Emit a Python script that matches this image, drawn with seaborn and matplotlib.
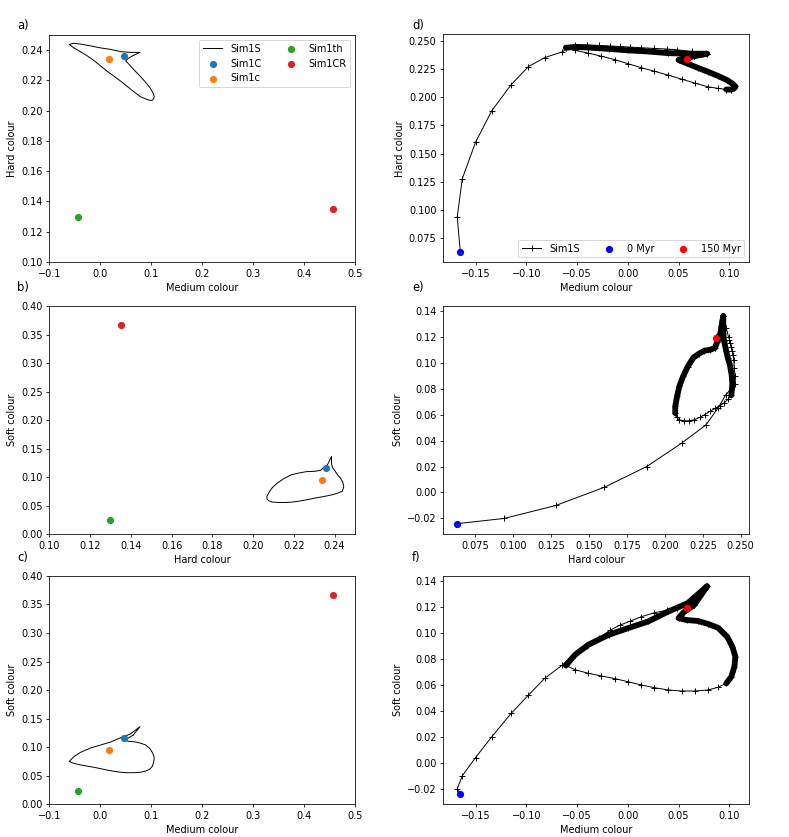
import pandas as pd
import matplotlib
matplotlib.use("Agg")
import matplotlib.pyplot as plt
import seaborn as sns

# Colour-colour diagrams: single simulations and the Sim1S time track

# Single simulations (medium, hard, soft colour)
sim_names = ['Sim1C', 'Sim1c', 'Sim1th', 'Sim1CR']
sim_medium = [0.046, 0.018, -0.044, 0.457]
sim_hard = [0.236, 0.234, 0.130, 0.135]
sim_soft = [0.116, 0.095, 0.024, 0.366]

# Sim1S track, split in pieces (medium, hard, soft)
transit_medium = [-0.165, -0.168, -0.163, -0.150, -0.134, -0.115, -0.098, -0.082, -0.065]
transit_hard = [0.063, 0.094, 0.128, 0.160, 0.188, 0.211, 0.227, 0.235, 0.240]
transit_soft = [-0.024, -0.020, -0.010, 0.004, 0.020, 0.038, 0.052, 0.065, 0.075]

first_medium = [-0.052, -0.040, -0.028, -0.018, -0.008, 0.002, 0.013, 0.026, 0.039, 0.048, 0.063, 0.078]
first_hard = [0.2465, 0.2462, 0.2458, 0.2454, 0.2449, 0.2444, 0.2438, 0.2432, 0.2426, 0.2420, 0.2405, 0.2385]
first_soft = [0.084, 0.090, 0.096, 0.102, 0.106, 0.109, 0.1125, 0.1156, 0.1177, 0.1195, 0.127, 0.136]

bulge_medium = [0.065, 0.055, 0.050, 0.058, 0.069, 0.079, 0.089, 0.098, 0.103, 0.106, 0.105, 0.102, 0.097]
bulge_hard = [0.2365, 0.2345, 0.2330, 0.2300, 0.2260, 0.2225, 0.2188, 0.2150, 0.2120, 0.2095, 0.2080, 0.2068, 0.2068]
bulge_soft = [0.1215, 0.116, 0.1115, 0.1100, 0.1093, 0.1070, 0.1040, 0.0970, 0.0895, 0.0817, 0.0740, 0.0663, 0.0612]

bottom_medium = [0.089, 0.079, 0.066, 0.053, 0.040, 0.026, 0.013, 0.000, -0.013, -0.026, -0.039, -0.052, -0.061]
bottom_hard = [0.2078, 0.2092, 0.2125, 0.2160, 0.2195, 0.2230, 0.2262, 0.2297, 0.2333, 0.2363, 0.2390, 0.2415, 0.2438]
bottom_soft = [0.0582, 0.0561, 0.0553, 0.0553, 0.0561, 0.0579, 0.0600, 0.0625, 0.0649, 0.0669, 0.0690, 0.0717, 0.0750]

top_medium = [-0.052, -0.039, -0.019, 0.000, 0.020, 0.040, 0.059, 0.078]
top_hard = [0.2445, 0.2440, 0.2428, 0.2415, 0.2405, 0.2390, 0.2385, 0.2385]
top_soft = [0.0832, 0.0909, 0.0986, 0.1037, 0.1089, 0.1166, 0.1230, 0.1360]

end_medium = [0.065, 0.058]
end_hard = [0.2365, 0.234]
end_soft = [0.1215, 0.119]


def piece(med, hard, soft):
    return pd.DataFrame({'med': med, 'hard': hard, 'soft': soft})


transit = piece(transit_medium, transit_hard, transit_soft)
first = piece(first_medium, first_hard, first_soft)
bulge = piece(bulge_medium, bulge_hard, bulge_soft)
bottom = piece(bottom_medium, bottom_hard, bottom_soft)
top = piece(top_medium, top_hard, top_soft)
end = piece(end_medium, end_hard, end_soft)

track = pd.concat([transit, first, bulge, bottom, top, end], ignore_index=True)
# closed limit cycle shown in panels a-c
cycle = pd.concat([bulge, bottom, top, bulge.iloc[:1]], ignore_index=True)
# slow (densely sampled) parts of the track
dense = [pd.concat([first.iloc[-1:], bulge], ignore_index=True),
         pd.concat([bottom.iloc[-1:], top, end], ignore_index=True)]

sims = pd.DataFrame({'name': sim_names, 'med': sim_medium, 'hard': sim_hard, 'soft': sim_soft})
sim_colors = ['tab:blue', 'tab:orange', 'tab:green', 'tab:red']

labels = {'med': 'Medium colour', 'hard': 'Hard colour', 'soft': 'Soft colour'}

fig = plt.figure(figsize=(789 / 70, 837 / 70), dpi=70)

left_pos = [[0.0625, 0.6870, 0.3874, 0.2712],
            [0.0625, 0.3620, 0.3874, 0.2724],
            [0.0625, 0.0391, 0.3874, 0.2728]]
right_pos = [[0.5619, 0.6866, 0.3878, 0.2724],
             [0.5619, 0.3620, 0.3878, 0.2728],
             [0.5619, 0.0391, 0.3878, 0.2728]]
pairs = [('med', 'hard'), ('hard', 'soft'), ('med', 'soft')]
limits = [((-0.1, 0.5), (0.10, 0.25)), ((0.10, 0.25), (0.0, 0.40)), ((-0.1, 0.5), (0.0, 0.40))]

# left column: limit cycle and single simulations
for i, (xc, yc) in enumerate(pairs):
    ax = fig.add_axes(left_pos[i])
    sns.lineplot(data=cycle, x=xc, y=yc, sort=False, estimator=None, color='black',
                 lw=1, label='Sim1S', ax=ax)
    for j, row in sims.iterrows():
        sns.scatterplot(x=[row[xc]], y=[row[yc]], color=sim_colors[j], s=55, linewidth=0,
                        label=row['name'], zorder=3, ax=ax)
    ax.set_xlim(limits[i][0])
    ax.set_ylim(limits[i][1])
    ax.set_xlabel(labels[xc])
    ax.set_ylabel(labels[yc])
    if i == 0:
        ax.legend(loc='upper right', ncol=2)
    else:
        ax.get_legend().remove()

# right column: time track of Sim1S
for i, (xc, yc) in enumerate(pairs):
    ax = fig.add_axes(right_pos[i])
    for seg in dense:
        sns.lineplot(data=seg, x=xc, y=yc, sort=False, estimator=None, color='black',
                     lw=6, solid_capstyle='round', ax=ax)
    sns.lineplot(data=track, x=xc, y=yc, sort=False, estimator=None, color='black',
                 lw=1, marker='+', markersize=7, markeredgewidth=1,
                 markeredgecolor='black', label='Sim1S', ax=ax)
    sns.scatterplot(x=[track[xc].iloc[0]], y=[track[yc].iloc[0]], color='blue', s=55,
                    linewidth=0, label='0 Myr', zorder=4, ax=ax)
    sns.scatterplot(x=[track[xc].iloc[-1]], y=[track[yc].iloc[-1]], color='red', s=55,
                    linewidth=0, label='150 Myr', zorder=4, ax=ax)
    ax.set_xlabel(labels[xc])
    ax.set_ylabel(labels[yc])
    if i == 0:
        ax.legend(loc='lower right', ncol=3)
    else:
        ax.get_legend().remove()

# panel letters
for txt, x, y in [('a)', 17, 25), ('b)', 17, 288), ('c)', 17, 558),
                  ('d)', 412, 25), ('e)', 412, 288), ('f)', 412, 558)]:
    fig.text(x / 789, 1 - y / 837, txt, fontsize=12, ha='left', va='center')

fig.savefig('out.png', dpi=70)
